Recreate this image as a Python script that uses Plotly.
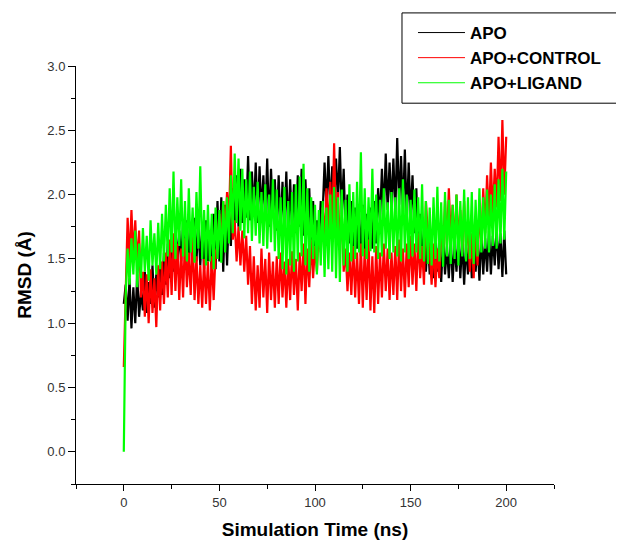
import plotly.graph_objects as go

# Simulation time (ns), 1 ns sampling
time_ns = list(range(0, 201))

rmsd_apo = [
    1.15, 1.30, 1.02, 1.35, 0.96, 1.28, 1.00, 1.38, 1.05, 1.25,
    1.10, 1.40, 1.08, 1.32, 1.15, 1.45, 1.12, 1.38, 1.20, 1.48,
    1.22, 1.55, 1.30, 1.62, 1.35, 1.70, 1.40, 1.75, 1.45, 1.72,
    1.48, 1.78, 1.50, 1.80, 1.45, 1.76, 1.52, 1.82, 1.48, 1.78,
    1.45, 1.75, 1.42, 1.80, 1.48, 1.72, 1.40, 1.85, 1.42, 1.95,
    1.48, 1.98, 1.40, 1.92, 1.45, 1.88, 1.60, 2.05, 1.72, 2.15,
    1.75, 2.20, 1.78, 2.12, 1.82, 2.30, 1.80, 2.18, 1.85, 2.25,
    1.78, 2.22, 1.85, 2.15, 1.80, 2.28, 1.75, 2.20, 1.82, 2.12,
    1.72, 2.15, 1.70, 2.10, 1.75, 2.18, 1.68, 2.12, 1.72, 2.08,
    1.70, 2.15, 1.75, 2.20, 1.68, 2.12, 1.72, 2.05, 1.60, 1.95,
    1.55, 1.80, 1.58, 1.95, 1.85, 2.25, 1.90, 2.30, 1.88, 2.22,
    1.92, 2.28, 1.95, 2.37, 1.85, 2.20, 1.70, 2.00, 1.62, 1.95,
    1.55, 1.90, 1.58, 1.88, 1.52, 1.92, 1.55, 1.85, 1.60, 1.90,
    1.58, 1.95, 1.62, 2.05, 1.80, 2.20, 1.85, 2.32, 1.88, 2.25,
    1.90, 2.28, 1.85, 2.44, 1.92, 2.30, 1.86, 2.35, 1.80, 2.25,
    1.82, 2.15, 1.70, 2.05, 1.55, 1.85, 1.45, 1.75, 1.40, 1.68,
    1.38, 1.65, 1.35, 1.70, 1.40, 1.62, 1.32, 1.68, 1.38, 1.60,
    1.35, 1.66, 1.32, 1.62, 1.40, 1.70, 1.35, 1.65, 1.30, 1.62,
    1.38, 1.68, 1.35, 1.72, 1.40, 1.65, 1.33, 1.70, 1.38, 1.66,
    1.40, 1.72, 1.38, 1.68, 1.45, 1.75, 1.42, 1.70, 1.36, 1.72,
    1.38,
]

rmsd_control = [
    0.66, 1.20, 1.82, 1.48, 1.88, 1.52, 1.80, 1.45, 1.72, 1.20,
    1.40, 1.05, 1.38, 1.00, 1.42, 1.08, 1.35, 0.97, 1.45, 1.10,
    1.48, 1.15, 1.55, 1.20, 1.65, 1.22, 1.70, 1.25, 1.62, 1.18,
    1.58, 1.20, 1.66, 1.28, 1.55, 1.22, 1.68, 1.18, 1.52, 1.15,
    1.45, 1.12, 1.50, 1.15, 1.48, 1.10, 1.52, 1.18, 1.55, 1.60,
    1.85, 1.62, 1.95, 1.70, 2.02, 1.78, 2.38, 1.65, 1.80, 1.48,
    1.75, 1.45, 1.72, 1.40, 1.68, 1.30, 1.60, 1.15, 1.52, 1.10,
    1.45, 1.12, 1.58, 1.20, 1.50, 1.08, 1.55, 1.18, 1.48, 1.12,
    1.52, 1.15, 1.55, 1.20, 1.48, 1.12, 1.50, 1.18, 1.56, 1.22,
    1.50, 1.10, 1.55, 1.25, 1.62, 1.15, 1.58, 1.28, 1.65, 1.35,
    1.60, 1.40, 1.75, 1.55, 1.90, 1.65, 2.05, 1.70, 2.10, 1.68,
    2.40, 1.72, 2.02, 1.60, 1.85, 1.40, 1.58, 1.25, 1.55, 1.22,
    1.60, 1.20, 1.55, 1.15, 1.62, 1.12, 1.58, 1.18, 1.65, 1.10,
    1.52, 1.08, 1.60, 1.15, 1.55, 1.20, 1.62, 1.25, 1.58, 1.18,
    1.55, 1.22, 1.60, 1.18, 1.65, 1.25, 1.58, 1.20, 1.62, 1.28,
    1.68, 1.30, 1.62, 1.25, 1.70, 1.35, 1.60, 1.30, 1.95, 1.70,
    1.55, 1.30, 1.62, 1.28, 1.58, 1.35, 1.75, 1.55, 1.95, 1.60,
    2.05, 1.65, 1.92, 1.58, 2.00, 1.62, 1.88, 1.55, 1.95, 1.60,
    1.75, 1.40, 1.70, 1.35, 1.80, 1.45, 1.90, 1.62, 2.05, 1.70,
    2.15, 1.80, 2.25, 1.85, 2.20, 1.90, 2.45, 1.95, 2.58, 2.00,
    2.45,
]

rmsd_ligand = [
    0.00, 1.22, 1.58, 1.30, 1.66, 1.38, 1.72, 1.28, 1.62, 1.35,
    1.74, 1.40, 1.68, 1.33, 1.80, 1.45, 1.70, 1.38, 1.78, 1.42,
    1.85, 1.48, 1.92, 1.52, 2.05, 1.55, 2.18, 1.50, 1.98, 1.60,
    2.12, 1.52, 1.95, 1.48, 2.05, 1.55, 1.90, 1.47, 2.02, 1.58,
    2.22, 1.50, 1.88, 1.45, 1.92, 1.48, 1.85, 1.42, 1.90, 1.50,
    1.88, 1.47, 1.95, 1.55, 1.98, 1.62, 2.15, 1.70, 2.32, 1.78,
    2.28, 1.72, 2.20, 1.66, 2.12, 1.70, 2.18, 1.64, 2.06, 1.68,
    2.10, 1.62, 2.02, 1.60, 2.08, 1.58, 2.00, 1.63, 2.12, 1.56,
    2.04, 1.50, 1.98, 1.42, 2.06, 1.38, 1.95, 1.45, 2.02, 1.40,
    2.08, 1.48, 2.14, 1.52, 2.24, 1.45, 2.05, 1.40, 1.98, 1.50,
    1.92, 1.38, 1.88, 1.45, 1.95, 1.36, 1.90, 1.42, 2.00, 1.40,
    2.06, 1.35, 1.98, 1.32, 2.04, 1.45, 1.96, 1.40, 2.08, 1.48,
    2.02, 1.50, 2.10, 1.55, 2.33, 1.52, 2.05, 1.50, 1.98, 1.56,
    2.20, 1.55, 2.00, 1.50, 1.96, 1.52, 2.05, 1.58, 1.94, 1.50,
    2.02, 1.55, 1.98, 1.52, 2.05, 1.48, 2.12, 1.55, 2.00, 1.50,
    1.96, 1.52, 2.04, 1.55, 1.98, 1.50, 2.08, 1.48, 1.95, 1.46,
    1.90, 1.45, 1.98, 1.50, 2.06, 1.48, 1.94, 1.44, 2.02, 1.52,
    1.96, 1.46, 1.92, 1.50, 2.00, 1.45, 1.95, 1.52, 2.04, 1.48,
    1.98, 1.50, 2.02, 1.46, 1.96, 1.52, 2.05, 1.55, 1.98, 1.58,
    2.04, 1.55, 2.00, 1.60, 2.08, 1.58, 2.12, 1.62, 2.20, 1.65,
    2.18,
]

series_names = ["APO", "APO+CONTROL", "APO+LIGAND"]
series_colors = ["#000000", "#ff0000", "#00ff00"]
series_values = [rmsd_apo, rmsd_control, rmsd_ligand]

x_tick_values = [0, 50, 100, 150, 200]
y_tick_values = [0.0, 0.5, 1.0, 1.5, 2.0, 2.5, 3.0]

FONT = "Arial, Liberation Sans, sans-serif"

fig = go.Figure()
for name, color, vals in zip(series_names, series_colors, series_values):
    fig.add_trace(go.Scatter(
        x=time_ns, y=vals, mode="lines", name=name,
        legendgroup=name, showlegend=False,
        line=dict(color=color, width=2.2),
    ))
# legend entries drawn with a thin line sample, as in the original
for name, color in zip(series_names, series_colors):
    fig.add_trace(go.Scatter(
        x=[None], y=[None], mode="lines", name=name,
        legendgroup=name, showlegend=True,
        line=dict(color=color, width=1),
    ))

# The page body has an 8 px default margin, so the figure is 8 px smaller.
fig.update_layout(
    width=616, height=536,
    margin=dict(l=68, r=70, t=58, b=60, autoexpand=False),
    paper_bgcolor="white", plot_bgcolor="white",
    font=dict(family=FONT, color="#333333"),
    showlegend=True,
    legend=dict(
        x=0.705, y=1.122, xanchor="left", yanchor="top",
        bgcolor="rgba(0,0,0,0)", borderwidth=0,
        font=dict(family=FONT, size=17, color="#000000", weight="bold"),
        itemwidth=47, tracegroupgap=0,
    ),
    shapes=[dict(
        type="rect", xref="paper", yref="paper",
        x0=0.682, x1=1.142, y0=0.911, y1=1.127,
        line=dict(color="#000000", width=1), fillcolor="rgba(0,0,0,0)",
    )],
)

fig.update_xaxes(
    range=[-25, 225], tickvals=x_tick_values,
    ticks="outside", ticklen=6, tickwidth=1, tickcolor="#000000",
    minor=dict(dtick=25, tick0=0, ticks="outside", ticklen=4, tickcolor="#000000"),
    showline=True, linecolor="#000000", linewidth=1,
    showgrid=False, zeroline=False,
    tickfont=dict(size=13, color="#333333"),
    title=dict(text="Simulation Time (ns)", standoff=14,
               font=dict(size=19, color="#000000", family=FONT, weight="bold")),
)
fig.update_yaxes(
    range=[-0.25, 3.0], tickvals=y_tick_values, tickformat=".1f",
    ticks="outside", ticklen=7, tickwidth=1, tickcolor="#000000",
    minor=dict(dtick=0.25, tick0=0, ticks="outside", ticklen=4, tickcolor="#000000"),
    showline=True, linecolor="#000000", linewidth=1,
    showgrid=False, zeroline=False,
    tickfont=dict(size=13, color="#333333"),
    title=dict(text="RMSD (Å)", standoff=10,
               font=dict(size=19, color="#000000", family=FONT, weight="bold")),
)

fig.write_html("out.html")
